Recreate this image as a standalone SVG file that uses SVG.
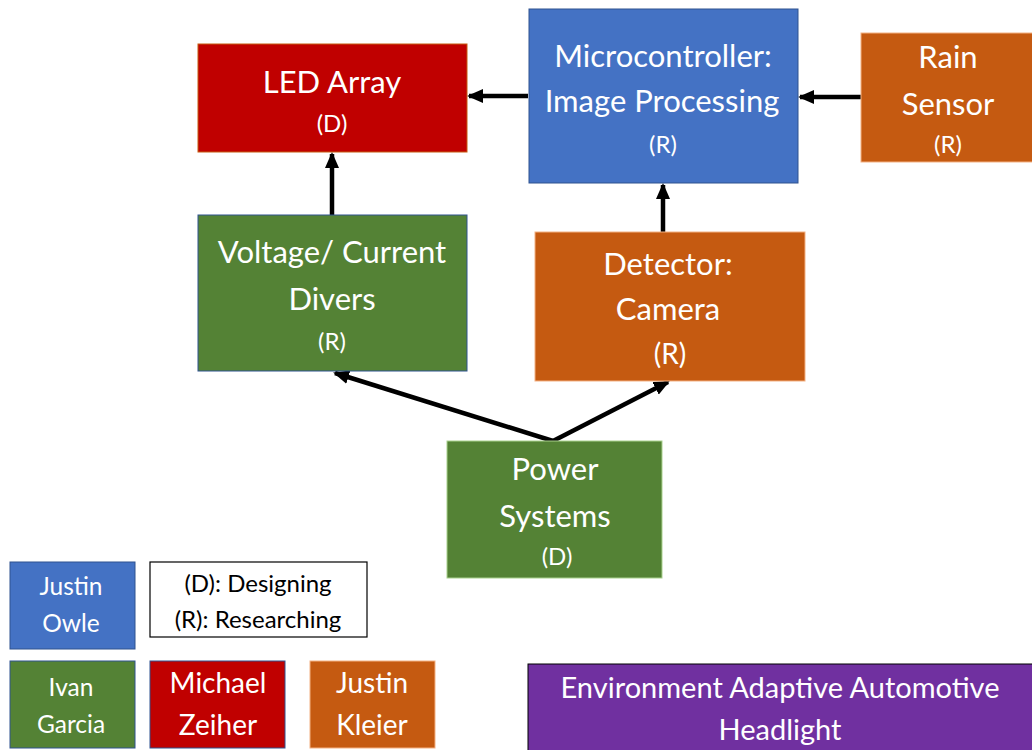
<svg xmlns="http://www.w3.org/2000/svg" width="1032" height="750" viewBox="0 0 1032 750">
<style>
text{font-family:Lato,"Open Sans","Liberation Sans",sans-serif;text-anchor:middle;fill:#ffffff}
.big{font-size:31px}
.mid{font-size:28px}
.sm{font-size:24.5px}
.tag{font-size:24px}
.dark{fill:#000000}
.conn{stroke:#000;stroke-width:4.5;fill:none}
</style>
<defs>
<marker id="ah" markerUnits="userSpaceOnUse" markerWidth="16" markerHeight="14" refX="14" refY="7" orient="auto">
<path d="M0,0 L16,7 L0,14 Z" fill="#000"/>
</marker>
</defs>
<rect width="1032" height="750" fill="#ffffff"/>
<g id="connectors">
<line class="conn" x1="528" y1="96" x2="469" y2="96" marker-end="url(#ah)"/>
<line class="conn" x1="861" y1="97" x2="800" y2="97" marker-end="url(#ah)"/>
<line class="conn" x1="332" y1="215" x2="332" y2="154" marker-end="url(#ah)"/>
<line class="conn" x1="663" y1="232" x2="663" y2="185" marker-end="url(#ah)"/>
<polyline class="conn" points="553,441 335,373" marker-end="url(#ah)"/>
<polyline class="conn" points="553,441 668,382" marker-end="url(#ah)"/>
</g>
<g id="led-array">
<rect x="198" y="44" width="269" height="108" fill="#C00000" stroke="#C55A11" stroke-width="1"/>
<text class="big" x="332" y="93">LED Array</text>
<text class="tag" x="332" y="132">(D)</text>
</g>
<g id="microcontroller">
<rect x="529" y="9" width="269" height="174" fill="#4472C4" stroke="#2F528F" stroke-width="1"/>
<text class="big" x="663" y="67">Microcontroller:</text>
<text class="big" x="662" y="112">Image Processing</text>
<text class="tag" x="663" y="153">(R)</text>
</g>
<g id="rain-sensor">
<rect x="861" y="33" width="172" height="129" fill="#C55A11" stroke="#F4B183" stroke-width="1"/>
<text class="big" x="948" y="68">Rain</text>
<text class="big" x="948" y="115">Sensor</text>
<text class="tag" x="948" y="153">(R)</text>
</g>
<g id="voltage-current">
<rect x="198" y="215" width="269" height="156" fill="#548235" stroke="#2F528F" stroke-width="1"/>
<text class="big" x="332" y="263">Voltage/ Current</text>
<text class="big" x="332" y="310">Divers</text>
<text class="tag" x="332" y="350">(R)</text>
</g>
<g id="detector">
<rect x="535" y="232" width="270" height="149" fill="#C55A11" stroke="#F4B183" stroke-width="1"/>
<text class="big" x="668" y="275">Detector:</text>
<text class="big" x="668" y="320">Camera</text>
<text class="big" x="670" y="364" style="font-size:28px">(R)</text>
</g>
<g id="power-systems">
<rect x="447" y="441" width="215" height="137" fill="#548235" stroke="#A9D18E" stroke-width="1"/>
<text class="big" x="555" y="480">Power</text>
<text class="big" x="555" y="527">Systems</text>
<text class="tag" x="557" y="565">(D)</text>
</g>
<g id="justin-owle">
<rect x="10" y="562" width="125" height="87" fill="#4472C4" stroke="#2F528F" stroke-width="1"/>
<text class="sm" x="71" y="595">Justin</text>
<text class="sm" x="71" y="632">Owle</text>
</g>
<g id="legend">
<rect x="150" y="562" width="217" height="75" fill="#ffffff" stroke="#000000" stroke-width="1.2"/>
<text class="tag dark" x="258" y="592">(D): Designing</text>
<text class="tag dark" x="258" y="628">(R): Researching</text>
</g>
<g id="ivan-garcia">
<rect x="10" y="661" width="125" height="87" fill="#548235" stroke="#2F528F" stroke-width="1"/>
<text class="sm" x="71" y="696">Ivan</text>
<text class="sm" x="71" y="733">Garcia</text>
</g>
<g id="michael-zeiher">
<rect x="150" y="661" width="135" height="87" fill="#C00000" stroke="#2F528F" stroke-width="1"/>
<text class="mid" x="218" y="693">Michael</text>
<text class="mid" x="218" y="735">Zeiher</text>
</g>
<g id="justin-kleier">
<rect x="310" y="661" width="125" height="87" fill="#C55A11" stroke="#F4B183" stroke-width="1"/>
<text class="mid" x="372" y="693">Justin</text>
<text class="mid" x="372" y="735">Kleier</text>
</g>
<g id="title">
<rect x="528" y="664" width="510" height="90" fill="#7030A0" stroke="#000000" stroke-width="1"/>
<text x="780" y="698" style="font-size:29px">Environment Adaptive Automotive</text>
<text x="780" y="740" style="font-size:29px">Headlight</text>
</g>
</svg>
